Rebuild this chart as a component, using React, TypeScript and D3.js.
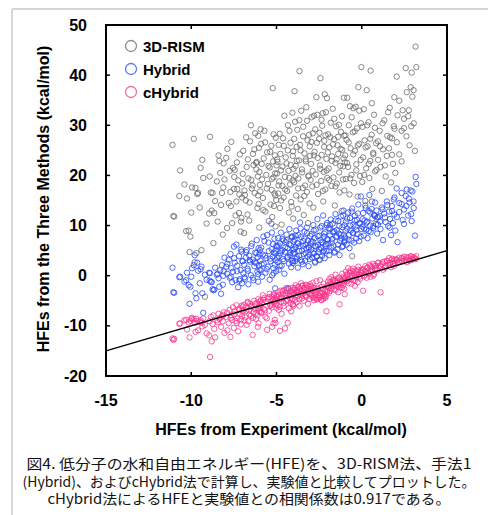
import React from 'react';
import * as d3 from 'd3';

// experimental HFE (x) shared by all three methods, kcal/mol
const expHFE = [
  -11.1, -11.05, -11.0, -10.7, -10.65, -10.4, -10.3, -10.25, -10.15, -10.1, -10.05, -10.0,
  -9.95, -9.85, -9.8, -9.75, -9.7, -9.65, -9.6, -9.5, -9.45, -9.4, -9.35, -9.3, -9.2, -9.1,
  -8.95, -8.9, -8.85, -8.8, -8.75, -8.7, -8.65, -8.5, -8.45, -8.4, -8.3, -8.25, -8.2, -8.15, -8.1, -8.05,
  -7.95, -7.9, -7.8, -7.75, -7.7, -7.65, -7.6, -7.55, -7.5, -7.45, -7.4, -7.35, -7.3, -7.25, -7.2, -7.15, -7.1, -7.05, -7.02, -7.0,
  -6.95, -6.9, -6.85, -6.8, -6.75, -6.7, -6.65, -6.6, -6.55, -6.5, -6.45, -6.4, -6.35, -6.3, -6.25, -6.2, -6.16, -6.12, -6.1, -6.08, -6.05, -6.03, -6.01, -6.0,
  -5.95, -5.93, -5.9, -5.85, -5.8, -5.75, -5.71, -5.65, -5.6, -5.55, -5.5, -5.45, -5.4, -5.35, -5.3, -5.28, -5.25, -5.22, -5.2, -5.18, -5.15, -5.12, -5.1, -5.08, -5.06, -5.04, -5.02, -5.0,
  -4.97, -4.94, -4.9, -4.87, -4.84, -4.8, -4.77, -4.74, -4.7, -4.66, -4.62, -4.58, -4.54, -4.5, -4.46, -4.42, -4.38, -4.34, -4.3, -4.27, -4.24, -4.2, -4.17, -4.14, -4.1, -4.07, -4.05, -4.03, -4.02, -4.0,
  -3.97, -3.94, -3.91, -3.88, -3.85, -3.82, -3.78, -3.75, -3.72, -3.68, -3.65, -3.62, -3.58, -3.55, -3.5, -3.46, -3.43, -3.4, -3.36, -3.32, -3.28, -3.25, -3.22, -3.18, -3.15, -3.12, -3.09, -3.06, -3.03, -3.0,
  -2.97, -2.94, -2.9, -2.87, -2.84, -2.8, -2.77, -2.74, -2.7, -2.66, -2.63, -2.6, -2.56, -2.52, -2.48, -2.45, -2.42, -2.38, -2.35, -2.32, -2.29, -2.26, -2.23, -2.2, -2.17, -2.14, -2.1, -2.07, -2.04, -2.02,
  -1.97, -1.94, -1.9, -1.86, -1.82, -1.78, -1.74, -1.7, -1.66, -1.62, -1.58, -1.54, -1.5, -1.46, -1.42, -1.38, -1.34, -1.3, -1.26, -1.22, -1.18, -1.14, -1.1, -1.07, -1.05, -1.03, -1.02, -1.0,
  -0.97, -0.93, -0.89, -0.85, -0.8, -0.76, -0.72, -0.69, -0.65, -0.6, -0.56, -0.52, -0.49, -0.45, -0.4, -0.36, -0.32, -0.28, -0.24, -0.2, -0.15, -0.1, -0.05, -0.02,
  0.03, 0.08, 0.12, 0.17, 0.21, 0.26, 0.29, 0.34, 0.4, 0.45, 0.5, 0.52, 0.58, 0.62, 0.67, 0.72, 0.78, 0.84, 0.9, 0.96,
  1.05, 1.1, 1.18, 1.25, 1.32, 1.4, 1.47, 1.55, 1.6, 1.66, 1.72, 1.77, 1.83, 1.88, 1.91, 1.97,
  2.05, 2.1, 2.2, 2.34, 2.4, 2.48, 2.58, 2.64, 2.72, 2.8, 2.87, 2.93, 2.97, 3.05, 3.12, 3.16,
  // second batch
  -8.92, -8.6, -8.35, -8.12, -7.88, -7.68, -7.48, -7.32, -7.18, -7.08,
  -6.98, -6.88, -6.78, -6.68, -6.58, -6.48, -6.38, -6.28, -6.18, -6.07, -5.97, -5.87, -5.77, -5.67, -5.57, -5.47, -5.37, -5.27, -5.17, -5.07,
  -4.96, -4.88, -4.81, -4.73, -4.65, -4.57, -4.49, -4.41, -4.33, -4.25, -4.18, -4.11, -4.04, -3.96, -3.89, -3.81, -3.73, -3.66, -3.59, -3.51, -3.44, -3.37, -3.29, -3.21, -3.13, -3.05,
  -2.95, -2.88, -2.81, -2.73, -2.65, -2.58, -2.5, -2.43, -2.36, -2.28, -2.21, -2.13, -2.06, -1.99, -1.91, -1.84, -1.76, -1.69, -1.61, -1.54, -1.47, -1.39, -1.32, -1.24, -1.16, -1.09,
  -0.95, -0.86, -0.77, -0.68, -0.59, -0.5, -0.41, -0.32, -0.23, -0.14, -0.06, 0.05, 0.14, 0.23, 0.32, 0.41, 0.5, 0.59, 0.68, 0.77, 0.86, 0.95,
  1.08, 1.22, 1.36, 1.5, 1.64, 1.78, 1.92, 2.06, 2.2, 2.34, 2.48, 2.62, 2.76, 2.9, 3.04, 3.2,
];

const rismHFE = [
  26.1, 11.9, 11.8, 15.9, 21.0, 18.2, 8.9, 15.4, 9.0, 4.7, 7.8, 12.6,
  17.6, 27.3, 2.7, 17.5, 4.5, 16.3, 16.5, 13.6, 21.5, 5.1, 23.1, 19.5, -4.2, 10.4,
  12.4, 27.7, 16.6, 13.0, 16.5, 6.5, 12.5, 18.8, 10.8, 24.0, 20.5, 14.1, 16.5, 8.2, 22.4, 19.2,
  23.5, 9.5, 14.5, 20.9, 16.7, 26.7, 10.5, 21.5, 17.3, 21.1, 12.0, 14.8, 17.3, 19.0, 12.5, 24.2, 8.8, 11.5, 15.6, 18.4,
  24.9, 8.5, 16.1, 15.0, 21.7, 12.2, 19.4, 11.0, 26.8, 30.0, 17.4, 18.0, 22.1, 25.2, 28.4, 22.5, 22.7, 13.5, 19.8, 16.0, 14.3, 25.5, 9.6, 20.7,
  16.8, 29.2, 26.3, 19.2, 15.5, 23.4, 28.9, 12.8, 20.1, 24.6, 18.3, 10.9, 21.6, 14.2, 25.9, 17.1, 11.7, 37.4, 22.8, 19.6, 13.9, 16.4, 24.0, 20.4, 9.8, 27.5, 15.1, 22.0,
  20.4, 22.7, 16.4, 26.1, 18.8, 13.5, 24.3, 21.0, 10.2, 17.9, 27.4, 15.6, 31.9, 19.7, 23.6, 7.1, 16.9, 25.0, 20.9, 12.6, 28.9, 18.2, 22.1, 14.7, 7.8, 32.5, 19.0, 24.8, 11.4, 21.3,
  18.6, 36.8, 30.7, 21.9, 16.0, 25.7, 29.1, 13.3, 19.4, 23.0, 40.8, 26.1, 15.2, 32.9, 20.6, 17.5, 29.7, 12.1, 24.4, 18.0, 22.8, 33.6, 16.7, 27.0, 10.5, 20.0, 28.1, 14.4, 23.9, 19.1,
  22.3, 31.6, 17.8, 28.4, 13.6, 31.9, 24.7, 2.8, 20.2, 35.6, 26.5, 32.1, 16.3, 3.1, 28.5, 22.0, 39.4, 18.9, 24.1, 29.9, 32.4, 14.8, 20.7, 26.9, 36.2, 17.2, 32.6, 23.3, 35.4, 19.5,
  28.2, 21.4, 25.6, 10.1, 30.5, 17.9, 23.8, 33.3, 19.6, 27.2, 14.0, 22.5, 29.8, 18.4, 26.0, 24.3, 30.1, 16.6, 21.9, 28.7, 12.9, 25.1, 19.2, 23.4, 35.5, 27.9, 17.0, 22.6,
  24.0, 19.3, 27.1, 35.5, 21.7, 30.0, 16.2, 33.8, 25.4, 20.1, 3.9, 28.6, 33.4, 18.5, 24.9, 33.7, 22.2, 29.4, 15.8, 37.6, 26.3, 19.9, 30.4, 41.6,
  18.7, 23.6, 33.2, 27.0, 14.9, 21.4, 37.0, 25.8, 30.6, 19.5, 22.9, 40.9, 28.1, 17.3, 24.5, 32.1, 20.8, 26.4, 11.6, 23.1,
  28.9, 21.7, 16.9, 25.2, 31.0, 19.8, 23.9, 32.6, 25.4, 27.6, 18.6, 27.4, 22.3, 29.8, 35.6, 20.5,
  39.7, 32.0, 24.2, 28.9, 33.0, 29.4, 41.4, 36.6, 31.8, 26.0, 37.6, 40.5, 35.7, 30.4, 24.9, 45.7,
  19.8, 14.9, 22.9, 17.6, 25.3, 13.9, 19.7, 22.6, 16.2, 10.8,
  20.3, 17.0, 27.6, 23.2, 14.6, 19.1, 24.3, 16.5, 21.2, 27.9, 18.1, 22.3, 13.1, 26.6, 17.4, 21.9, 24.7, 19.3, 28.2, 16.0,
  23.2, 18.0, 28.3, 15.0, 21.8, 25.9, 17.2, 22.4, 30.0, 19.5, 26.5, 13.8, 23.9, 27.3, 19.9, 22.9, 17.4, 31.0, 25.0, 21.2, 27.8, 15.9, 23.2, 30.9, 19.8, 25.8,
  26.7, 20.9, 24.0, 29.2, 18.1, 23.5, 27.3, 21.3, 31.1, 16.9, 25.7, 28.0, 21.0, 24.6, 19.1, 27.6, 22.9, 26.2, 31.3, 17.8, 23.2, 27.7, 20.6, 25.3, 31.8, 21.8,
  28.0, 22.5, 26.6, 19.4, 31.6, 24.2, 28.8, 21.0, 26.0, 32.9, 23.1, 29.7, 20.1, 25.6, 30.0, 22.3, 27.3, 34.4, 24.2, 29.5, 21.1, 26.8,
  25.8, 30.4, 22.0, 27.9, 33.5, 24.1, 29.3, 26.6, 34.9, 22.8, 31.3, 27.8, 33.0, 29.8, 37.0, 41.6,
];

const hybridHFE = [
  1.6, -3.3, -3.4, -0.3, -0.2, -1.2, -0.9, 0.6, -1.9, -5.6, -2.2, -0.2,
  1.5, 2.1, 4.1, -3.5, -4.5, 2.6, 1.0, -1.5, 1.3, 1.8, -3.5, -7.4, 0.2, -0.8,
  0.6, 0.5, -1.2, -1.3, -2.7, -2.9, -2.8, 0.2, 0.4, -0.5, 1.1, -3.6, 2.1, -1.8, 0.9, 3.6,
  1.8, 0.4, 3.2, -0.4, 4.3, 1.5, -1.3, 0.8, 5.8, 2.6, -0.9, 6.2, 2.0, -2.3, 3.9, -0.7, 1.1, 4.8, -1.5, 2.9,
  0.5, 2.2, -0.6, 3.6, 5.1, 1.4, -1.7, 4.0, 2.8, 0.1, 6.4, 3.2, -0.9, 1.9, 4.6, 2.5, 7.1, 0.8, 3.7, -1.2, 5.5, 2.0, 4.3, 1.2,
  3.0, 1.1, 5.6, -0.2, 4.2, 2.4, 6.9, 0.6, 3.5, 8.1, 1.8, 4.9, -0.8, 2.9, 10.4, 5.3, 0.1, 3.8, 6.3, 1.5, 4.6, 7.4, 2.2, -2.5, 5.0, 3.1, 0.9, 6.0,
  5.8, 2.7, 7.5, 3.9, 1.2, 6.4, 4.5, 8.6, 2.0, 5.1, 3.3, 7.0, 0.4, 4.8, 6.7, -2.5, 3.6, 5.5, -2.5, 2.4, 9.3, 4.1, 6.1, 1.7, 3.0, 7.8, 5.2, 2.9, 4.4, 6.8,
  4.6, 7.2, 2.9, 5.7, 9.0, 3.4, 6.5, 1.6, 8.1, 4.0, 5.9, 10.6, 3.1, 7.7, 5.0, 2.3, 6.9, 4.3, 8.8, 3.0, 6.2, 5.4, 9.6, 3.8, 7.0, 1.9, 5.6, 4.2, 7.9, 6.4,
  5.2, 8.3, 3.6, 6.8, 10.1, 4.4, 7.5, 2.6, 9.2, 5.8, 3.9, 11.3, 6.1, 4.7, 8.0, 3.2, 7.1, 5.5, 9.9, 4.0, 6.6, 12.0, 5.0, 7.8, 3.5, 8.7, 6.3, 4.9, 10.5, 7.3,
  6.4, 9.5, 4.1, 8.0, 11.2, 5.6, 7.3, 10.4, 6.0, 8.9, 4.8, 12.3, 7.7, 9.1, 5.3, 10.9, 8.4, 4.1, 6.9, 11.8, 7.4, 9.7, 5.9, 13.0, 8.2, 6.7, 10.1, 7.0,
  7.6, 10.8, 6.2, 9.4, 12.6, 8.1, 5.5, 11.5, 9.0, 7.0, 13.4, 8.6, 10.2, 6.6, 12.0, 9.8, 7.4, 11.1, 8.3, 14.2, 6.9, 10.5, 15.8, 9.3,
  9.8, 12.5, 8.0, 11.0, 14.0, 9.2, 10.6, 7.5, 12.9, 16.1, 10.0, 8.7, 13.3, 11.4, 9.5, 12.1, 14.6, 10.3, 8.4, 11.7,
  11.9, 9.3, 13.6, 7.1, 12.4, 10.7, 14.8, 9.9, 12.8, 11.3, 8.1, 13.9, 10.5, 15.2, 12.2, 9.0,
  17.4, 6.7, 12.7, 14.3, 11.1, 13.2, 15.9, 17.2, 12.0, 14.6, 17.0, 10.9, 16.8, 13.5, 8.0, 19.7,
  -1.0, 1.6, -2.2, 0.0, 2.4, -0.2, 3.5, 0.9, -1.0, 5.2,
  2.9, -0.3, 4.7, 1.0, 3.1, 5.9, -0.4, 2.7, 4.5, 0.3, 5.1, 2.3, 7.8, 4.0, 1.3, 6.6, 3.4, 8.6, 0.5, 4.4,
  3.5, 6.0, 1.9, 4.9, 7.3, 2.9, 5.6, 8.2, 3.8, 6.3, 4.6, 7.6, 2.5, 5.3, 8.0, 3.7, 6.4, 4.9, 9.4, 2.8, 6.0, 7.4, 4.5, 8.5, 5.7, 3.3,
  6.8, 4.6, 9.0, 5.9, 3.8, 7.9, 5.3, 9.6, 6.7, 4.7, 8.4, 6.0, 10.1, 7.2, 5.0, 9.3, 6.6, 8.7, 4.6, 11.0, 7.9, 6.2, 9.9, 8.1, 5.7, 12.0,
  8.9, 11.4, 7.2, 10.0, 12.8, 8.5, 11.0, 9.1, 12.4, 10.4, 7.8, 11.3, 9.4, 13.5, 10.8, 8.9, 12.6, 14.8, 9.9, 11.9, 13.0, 10.2,
  10.8, 13.2, 11.6, 14.1, 9.6, 12.9, 15.6, 11.7, 14.5, 16.5, 10.3, 13.9, 15.4, 12.3, 14.8, 18.3,
];

const cHybridHFE = [
  -12.5, -12.8, -12.6, -9.6, -9.5, -8.9, -8.8, -10.7, -9.3, -12.3, -9.0, -8.6,
  -8.4, -8.7, -9.4, -11.2, -8.6, -9.0, -10.9, -9.2, -8.9, -9.4, -10.1, -8.5, -9.8, -11.5,
  -11.9, -16.2, -8.2, -13.1, -9.6, -7.9, -10.6, -8.9, -9.3, -7.6, -8.4, -10.2, -8.0, -9.1, -7.3, -11.4,
  -8.2, -7.4, -9.5, -6.8, -12.2, -7.9, -8.8, -6.3, -10.4, -7.1, -9.0, -5.9, -8.5, -11.1, -6.6, -7.6, -9.7, -6.0, -8.1, -7.0,
  -7.0, -5.8, -8.3, -6.4, -9.8, -5.2, -9.1, -6.9, -5.6, -8.0, -6.2, -11.8, -7.3, -5.0, -6.7, -8.6, -5.4, -7.9, -10.2, -4.7, -9.5, -6.5, -5.9, -7.2,
  -6.1, -4.9, -7.4, -5.5, -3.9, -6.6, -4.4, -8.2, -5.1, -10.8, -4.6, -7.0, -3.6, -5.8, -4.2, -6.3, -10.2, -5.0, -4.7, -9.5, -3.8, -5.3, -8.8, -4.5, -9.4, -5.7, -4.0, -6.4,
  -4.1, -5.9, -3.3, -6.8, -4.7, -11.0, -3.0, -5.2, -7.6, -4.4, -3.7, -6.1, -2.8, -10.5, -5.0, -3.5, -4.8, -9.4, -2.6, -6.5, -4.0, -3.2, -5.5, -7.1, -3.9, -4.6, -2.4, -5.7, -3.4, -6.0,
  -3.6, -2.5, -4.8, -1.9, -3.1, -5.3, -2.9, -4.0, -2.2, -3.4, -6.0, -2.7, -3.8, -1.5, -4.5, -2.0, -3.2, -5.0, -2.6, -3.9, -1.8, -4.2, -2.4, -3.0, -5.6, -2.1, -3.5, -4.6, -1.7, -2.8,
  -2.1, -3.6, -4.3, -1.4, -3.0, -4.9, -2.5, -3.8, -4.5, -1.1, -3.2, -4.7, -2.7, -3.9, -4.4, -0.9, -3.5, -4.8, -2.2, -4.1, -3.4, -4.6, -1.6, -3.7, -4.2, -2.9, -4.0, -7.1, -3.3, -1.9,
  -1.2, -2.4, -0.6, -3.0, -1.8, -0.3, -2.1, -1.5, -0.9, -2.7, -1.1, 0.2, -2.0, -1.4, -0.5, -3.3, -1.7, -5.7, -0.8, -2.3, -1.0, 0.4, -1.9, -0.2, -1.3, -2.6, -0.7, -3.7,
  -0.4, 0.8, -1.1, 0.3, 1.5, -0.7, 0.6, -0.1, 1.1, -1.6, 0.0, 1.4, -0.9, 0.5, -2.0, 1.0, -0.3, 0.7, -1.3, 1.8, 0.2, -0.6, 0.9, 1.2,
  0.6, -3.0, 1.3, 0.1, 1.9, 0.8, -0.4, 1.6, 0.4, 2.2, 1.0, -0.2, 1.7, 0.9, 2.4, 0.3, 1.4, 2.0, 1.1, 2.6,
  1.5, -3.3, 2.3, 1.2, 2.8, 1.9, 3.0, 2.1, 3.5, 2.6, 1.7, 3.2, 2.4, 3.0, 2.0, 3.3,
  3.1, 2.6, 3.6, 2.9, 3.4, 3.8, 3.2, 2.7, 3.6, 3.0, 3.9, 3.4, 3.2, 3.7, 3.5, 3.3,
  -9.1, -12.3, -8.6, -7.8, -10.9, -8.4, -7.7, -9.4, -6.9, -8.7,
  -6.2, -8.9, -7.0, -5.4, -7.7, -6.0, -8.4, -5.7, -7.4, -6.6, -5.2, -7.2, -4.8, -6.9, -8.5, -4.3, -6.0, -5.6, -3.7, -5.0,
  -4.9, -3.8, -6.2, -4.3, -3.1, -5.4, -4.0, -2.9, -5.0, -3.7, -4.5, -3.0, -5.8, -2.8, -4.1, -3.3, -2.3, -4.7, -3.0, -2.0, -3.6, -2.5, -4.0, -1.9, -3.1, -3.7,
  -3.9, -2.6, -4.4, -3.2, -4.7, -2.4, -4.1, -3.5, -4.9, -2.7, -3.9, -4.4, -3.0, -2.0, -3.4, -1.3, -2.6, -0.8, -1.9, -2.9, -1.0, -2.2, -0.4, -1.6, -2.4, -0.9,
  -0.9, 0.1, -1.5, 0.6, -0.6, 0.9, -1.0, 0.3, 1.2, -0.2, 0.7, 1.1, -0.1, 0.8, 1.6, 0.5, 1.9, 1.2, 0.0, 2.1, 1.5, 2.5,
  2.0, 2.7, 1.6, 2.9, 2.3, 3.4, 2.6, 3.2, 2.8, 3.5, 3.0, 3.7, 3.1, 3.8, 3.4, 3.9,
];

const xTicks = [-15, -10, -5, 0, 5];
const yTicks = [-20, -10, 0, 10, 20, 30, 40, 50];

const series = [
  { name: '3D-RISM', values: rismHFE, color: '#6a6a6a', legend: '#8a8a8a' },
  { name: 'Hybrid', values: hybridHFE, color: '#2449f2', legend: '#5b78f5' },
  { name: 'cHybrid', values: cHybridHFE, color: '#f7378f', legend: '#ee6aa8' },
];

const caption = [
  '図4. 低分子の水和自由エネルギー(HFE)を、3D-RISM法、手法1',
  '(Hybrid)、およびcHybrid法で計算し、実験値と比較してプロットした。',
  'cHybrid法によるHFEと実験値との相関係数は0.917である。',
];
// measured line widths of the caption in the figure
const captionWidth = [445, 453, 403];

const W = 488, H = 515;
const m = { left: 106, right: 447, top: 25, bottom: 376 };
const font = '"Liberation Sans", Arial, Helvetica, sans-serif';

const App = () => {
  const x = d3.scaleLinear().domain([-15, 5]).range([m.left, m.right]);
  const y = d3.scaleLinear().domain([-20, 50]).range([m.bottom, m.top]);
  const tk = 4;

  return (
    <svg width={W} height={H} style={{ position: 'absolute', left: 0, top: 0, background: '#fff' }}>
      {/* light frame around the figure */}
      <line x1={12} x2={W} y1={9} y2={9} stroke="#d6d6d6" strokeWidth={2} />
      <line x1={12} x2={12} y1={9} y2={H} stroke="#d6d6d6" strokeWidth={2} />

      {series.map(s => (
        <g key={s.name} fill="none" stroke={s.color} strokeWidth={1} strokeOpacity={0.8}>
          {expHFE.map((v, i) => (
            <circle key={i} cx={x(v)} cy={y(s.values[i])} r={2.7} />
          ))}
        </g>
      ))}

      {/* y = x reference line */}
      <line x1={x(-15)} y1={y(-15)} x2={x(5)} y2={y(5)} stroke="#000" strokeWidth={1.4} />

      <rect x={m.left} y={m.top} width={m.right - m.left} height={m.bottom - m.top}
        fill="none" stroke="#000" strokeWidth={2} />

      {xTicks.map(t => (
        <g key={'x' + t}>
          <line x1={x(t)} x2={x(t)} y1={m.bottom} y2={m.bottom - tk} stroke="#000" strokeWidth={1.5} />
          <line x1={x(t)} x2={x(t)} y1={m.top} y2={m.top + tk} stroke="#000" strokeWidth={1.5} />
          <text x={x(t)} y={400} textAnchor="middle" dominantBaseline="central"
            style={{ font: `bold 16px ${font}` }}>{t}</text>
        </g>
      ))}
      {yTicks.map(t => (
        <g key={'y' + t}>
          <line x1={m.left} x2={m.left + tk} y1={y(t)} y2={y(t)} stroke="#000" strokeWidth={1.5} />
          <line x1={m.right} x2={m.right - tk} y1={y(t)} y2={y(t)} stroke="#000" strokeWidth={1.5} />
          <text x={87} y={y(t)} textAnchor="end" dominantBaseline="central"
            style={{ font: `bold 16px ${font}` }}>{t}</text>
        </g>
      ))}

      <text x={281} y={429} textAnchor="middle" dominantBaseline="central"
        style={{ font: `bold 16px ${font}` }}>HFEs from Experiment (kcal/mol)</text>
      <text transform="translate(43,199) rotate(-90)" textAnchor="middle" dominantBaseline="central"
        style={{ font: `bold 16px ${font}` }}>HFEs from the Three Methods (kcal/mol)</text>

      {series.map((s, i) => (
        <g key={'lg' + s.name} transform={`translate(131,${46 + i * 23})`}>
          <circle r={5.5} fill="none" stroke={s.legend} strokeWidth={1.3} />
          <text x={12} dominantBaseline="central" style={{ font: `bold 15px ${font}` }}>{s.name}</text>
        </g>
      ))}

      {caption.map((c, i) => (
        <text key={i} x={249} y={463 + i * 17.5} textAnchor="middle" dominantBaseline="central"
          textLength={captionWidth[i]} lengthAdjust="spacingAndGlyphs"
          fill="#111" style={{ font: `14px "Noto Sans CJK JP", sans-serif` }}>{c}</text>
      ))}
    </svg>
  );
};

export default App;
